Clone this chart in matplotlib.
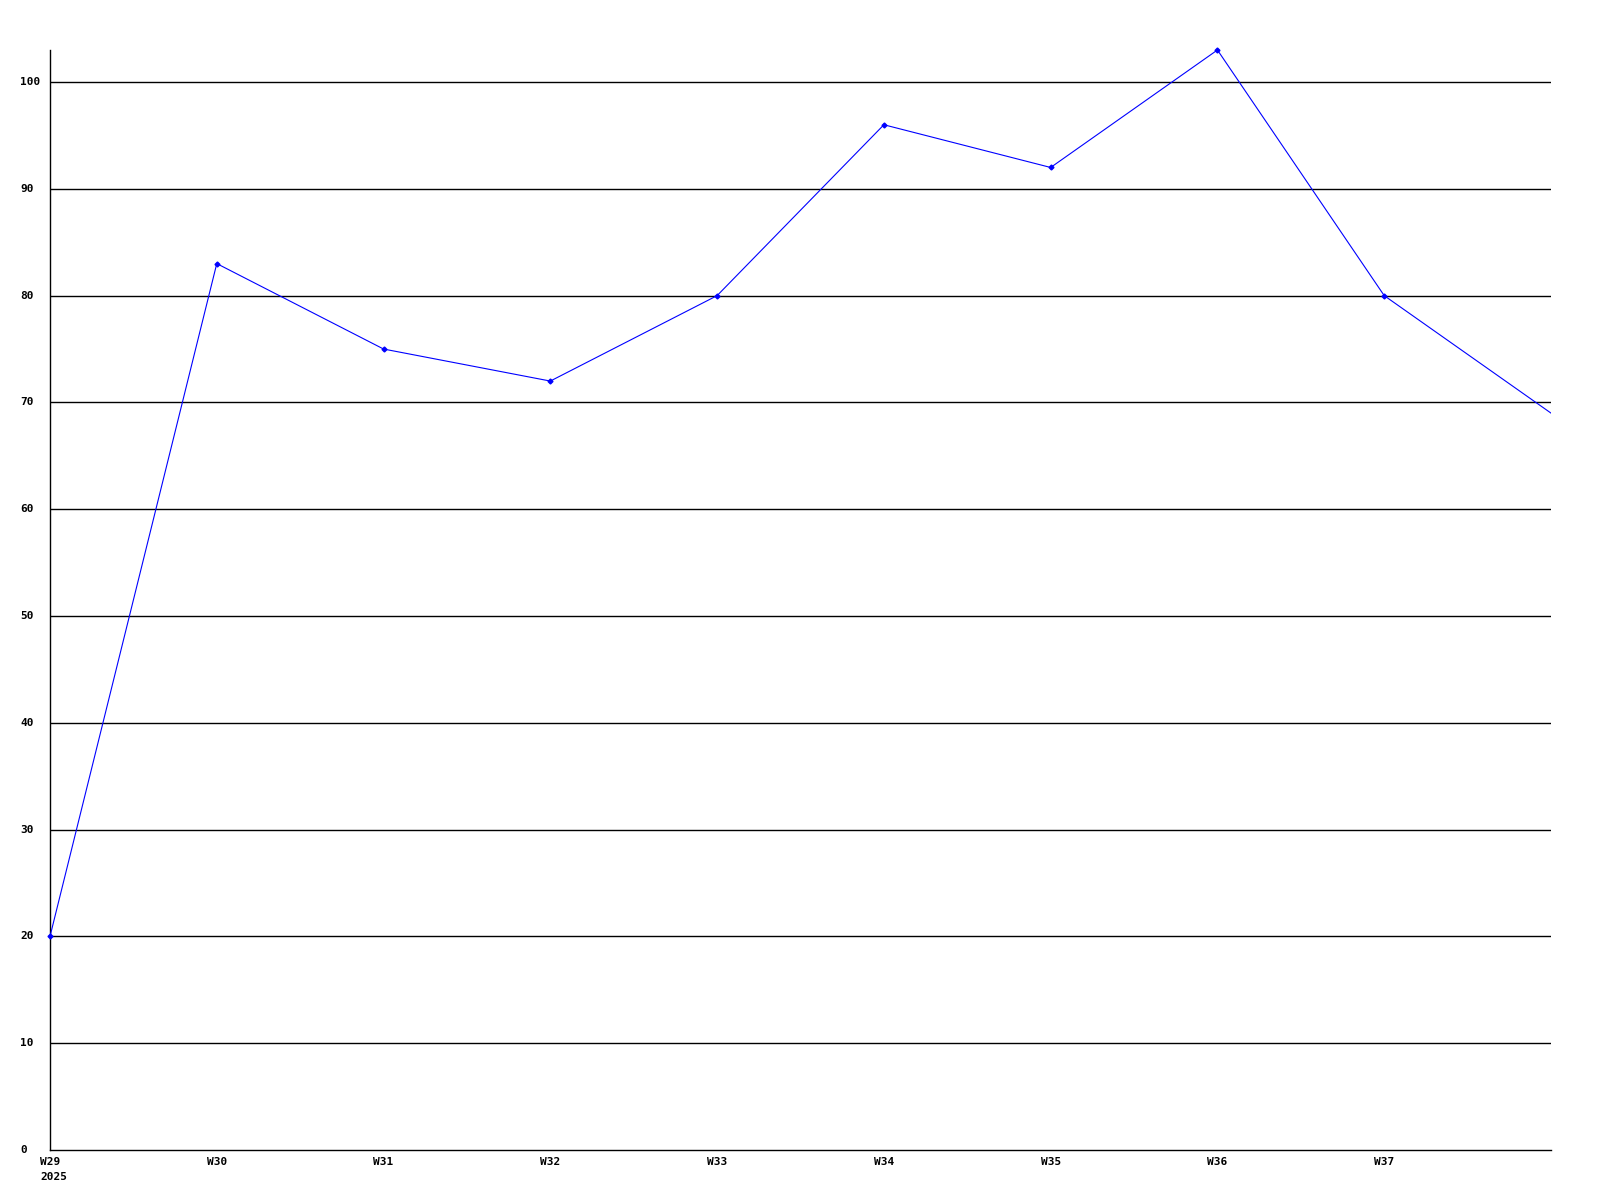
import matplotlib
matplotlib.use("Agg")
import matplotlib.pyplot as plt
from matplotlib.transforms import blended_transform_factory

weeks = ["W29", "W30", "W31", "W32", "W33", "W34", "W35", "W36", "W37", ""]
values = [20, 83, 75, 72, 80, 96, 92, 103, 80, 69]
yticks = [0, 10, 20, 30, 40, 50, 60, 70, 80, 90, 100]
year_label = "2025"

fig = plt.figure(figsize=(16, 12), dpi=100)
ax = fig.add_axes([50/1600, 1 - 1150/1200, (1551-50)/1600, (1150-50)/1200])

x = list(range(len(values)))
ax.set_xlim(0, len(values) - 1)
ax.set_ylim(0, 103)

for t in yticks[1:]:
    ax.axhline(t, color="black", lw=1.0, zorder=1)

ax.plot(x, values, color="#0000ff", lw=0.8, zorder=3)
ax.plot(x[:-1], values[:-1], ls="none", marker="D", ms=2.5, color="#0000ff",
        zorder=4, clip_on=False)

for s in ["top", "right"]:
    ax.spines[s].set_visible(False)
for s in ["left", "bottom"]:
    ax.spines[s].set_color("black")
    ax.spines[s].set_linewidth(1.0)

ax.set_xticks([])
ax.set_yticks([])

font = dict(family="DejaVu Sans Mono", weight="bold", fontsize=8, color="black")

ytr = blended_transform_factory(fig.transFigure, ax.transData)
for t in yticks:
    fig.text(20/1600, t, str(t), transform=ytr, ha="left", va="center", **font)

xtr = blended_transform_factory(ax.transData, fig.transFigure)
for i, w in enumerate(weeks):
    if w:
        fig.text(i, 1 - 1157/1200, w, transform=xtr, ha="center", va="top", **font)
fig.text(40/1600, 1 - 1172/1200, year_label, ha="left", va="top", **font)

fig.savefig("out.png", dpi=100, facecolor="white")
